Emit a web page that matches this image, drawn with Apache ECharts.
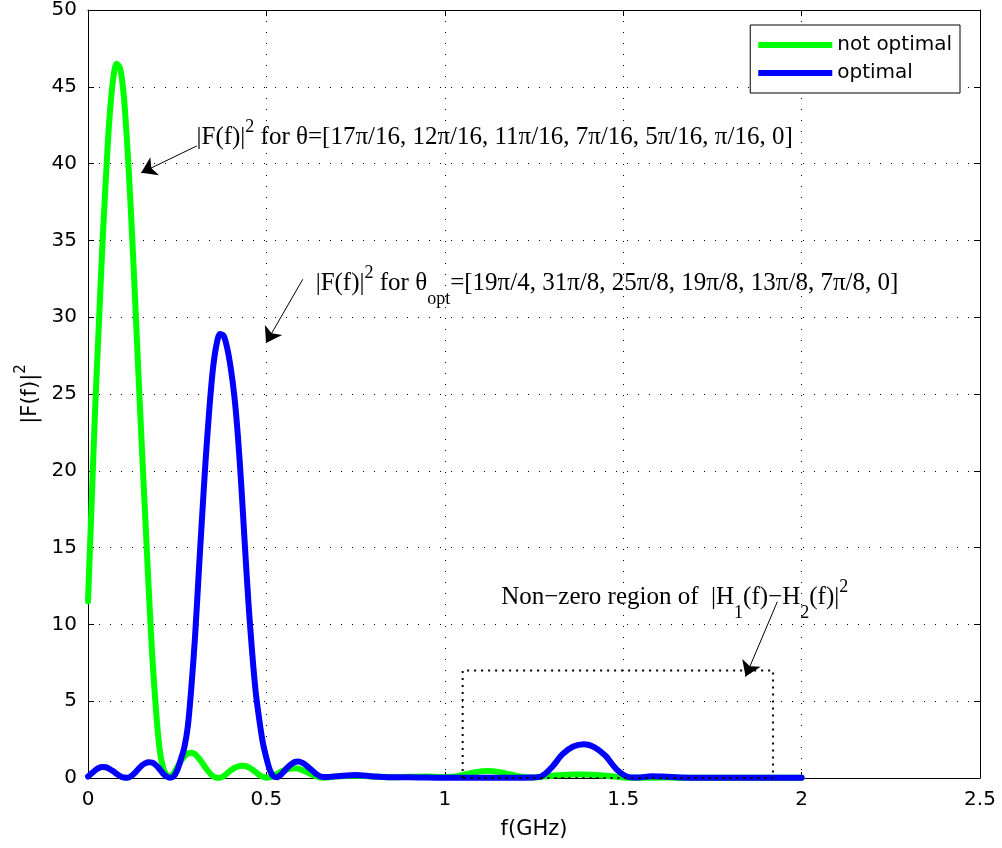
<!DOCTYPE html>
<html><head><meta charset="utf-8">
<script src="https://cdn.jsdelivr.net/npm/echarts@6/dist/echarts.min.js"></script>
<style>html,body{margin:0;padding:0;background:#fff}#c{width:1002px;height:848px}</style>
</head><body><div id="c"></div>
<script>
// ---------- data ----------
const freq = [0.00,0.01,0.02,0.03,0.04,0.05,0.06,0.07,0.08,0.09,
  0.10,0.11,0.12,0.13,0.14,0.15,0.16,0.17,0.18,0.19,
  0.20,0.21,0.22,0.23,0.24,0.25,0.26,0.27,0.28,0.29,
  0.30,0.31,0.32,0.33,0.34,0.35,0.36,0.37,0.38,0.39,
  0.40,0.41,0.42,0.43,0.44,0.45,0.46,0.47,0.48,0.49,
  0.50,0.51,0.52,0.53,0.54,0.55,0.56,0.57,0.58,0.59,
  0.60,0.61,0.62,0.63,0.64,0.65,0.66,0.67,0.68,0.69,0.70,
  0.75,0.80,0.85,0.90,0.95,1.00,
  1.03,1.06,1.09,1.12,1.15,1.18,1.21,1.24,1.27,1.30,1.33,1.36,1.39,1.42,1.45,1.48,1.51,1.54,
  1.58,1.62,1.66,1.70,1.75,1.80,1.85,1.90,1.95,2.00];

const notOptimal = [11.5,17.8,24.0,29.3,34.5,39.0,42.9,45.4,46.5,46.2,
  44.5,41.2,37.0,32.2,27.0,22.0,17.2,12.4,8.0,4.6,
  2.0,0.7,0.2,0.1,0.3,0.7,1.1,1.4,1.6,1.65,
  1.55,1.3,1.0,0.65,0.35,0.12,0.02,0.02,0.12,0.3,
  0.5,0.65,0.75,0.8,0.78,0.7,0.55,0.38,0.2,0.08,
  0.02,0.05,0.15,0.27,0.4,0.5,0.58,0.62,0.63,0.6,
  0.52,0.42,0.3,0.2,0.1,0.04,0.02,0.03,0.06,0.09,0.11,
  0.15,0.1,0.05,0.08,0.1,0.05,
  0.1,0.25,0.4,0.45,0.4,0.25,0.1,0.03,0.08,0.15,0.2,0.22,0.22,0.2,0.15,0.08,0.02,0.01,
  0.02,0.03,0.02,0.01,0.02,0.01,0.01,0.02,0.01,0.01];

const optimal = [0.1,0.3,0.5,0.65,0.72,0.7,0.6,0.45,0.28,0.12,
  0.03,0.02,0.1,0.3,0.55,0.8,0.95,1.02,1.0,0.85,
  0.6,0.3,0.1,0.02,0.1,0.5,1.2,2.0,3.4,6.0,
  9.2,13.2,17.1,20.8,24.0,26.6,28.2,28.9,28.8,28.0,
  26.7,24.9,22.3,18.9,15.0,11.3,8.2,5.6,3.8,2.3,
  1.3,0.5,0.1,0.05,0.2,0.45,0.7,0.9,1.05,1.08,
  1.0,0.85,0.65,0.45,0.25,0.12,0.06,0.06,0.08,0.1,0.12,
  0.2,0.1,0.05,0.05,0.03,0.02,
  0.02,0.02,0.02,0.02,0.02,0.02,0.02,0.03,0.1,0.7,1.55,2.05,2.2,2.0,1.45,0.6,0.1,0.03,
  0.12,0.08,0.03,0.02,0.02,0.02,0.02,0.02,0.02,0.02];

const seriesNames = ['not optimal', 'optimal'];
const xTickLabels = ['0','0.5','1','1.5','2','2.5'];
const yTickLabels = ['0','5','10','15','20','25','30','35','40','45','50'];

// non-zero region box (data space): x range and height
const regionX = [1.05, 1.92];
const regionTop = 7;

// annotation arrows: [start, tip] in data space
const arrows = [
  [[0.305, 41.15], [0.149, 39.4]],
  [[0.602, 32.47], [0.499, 28.32]],
  [[1.932, 11.48], [1.843, 6.6]]
];
// annotation texts anchored (left-middle) in data space
const notes = [
  { x: 0.304, y: 42.19, text: '{nb||F(f)|}{sp|2}{nb| for θ=[17π/16, 12π/16, 11π/16, 7π/16, 5π/16, π/16, 0]}' },
  { x: 0.638, y: 32.68, text: '{nb||F(f)|}{sp|2}{nb| for θ}{sb|opt}{nb|=[19π/4, 31π/8, 25π/8, 19π/8, 13π/8, 7π/8, 0]}' },
  { x: 1.158, y: 12.24, text: '{nb|Non−zero region of  |H}{sb|1}{nb|(f)−H}{sb|2}{nb|(f)|}{sp|2}' }
];

// ---------- chart ----------
const sans = 'DejaVu Sans';
const serif = 'Liberation Serif';
const pts = ys => freq.map((f, i) => [f, ys[i]]);
const regionPts = [[regionX[0], 0], [regionX[0], regionTop], [regionX[1], regionTop], [regionX[1], 0], [regionX[0], 0]];

const richNote = {
  nb: { fontFamily: serif, fontSize: 25, lineHeight: 26, color: '#000', padding: [8, 0, 12, 0], verticalAlign: 'top' },
  sp: { fontFamily: serif, fontSize: 18, lineHeight: 18, color: '#000', padding: [1, 0, 27, 0], verticalAlign: 'top' },
  sb: { fontFamily: serif, fontSize: 18, lineHeight: 18, color: '#000', padding: [27, 0, 1, 0], verticalAlign: 'top' }
};

const axisCommon = {
  type: 'value',
  axisLine: { show: true, onZero: false, lineStyle: { color: '#000', width: 1 } },
  axisTick: { show: true, inside: true, length: 6, lineStyle: { color: '#000', width: 1 } }
};

const chart = echarts.init(document.getElementById('c'), null, { renderer: 'canvas' });
chart.setOption({
  animation: false,
  backgroundColor: '#fff',
  grid: { left: 88, right: 22, top: 10, bottom: 70, containLabel: false },
  legend: {
    data: seriesNames,
    orient: 'vertical',
    right: 42, top: 25,
    icon: 'rect',
    itemWidth: 74, itemHeight: 6, itemGap: 8,
    padding: [10, 8, 10, 8],
    backgroundColor: '#fff',
    borderColor: '#000', borderWidth: 1,
    textStyle: { fontFamily: sans, fontSize: 20, lineHeight: 20, color: '#000' },
    selectedMode: false
  },
  xAxis: [
    Object.assign({}, axisCommon, {
      min: 0, max: 2.5, interval: 0.5, position: 'bottom',
      axisLabel: { fontFamily: sans, fontSize: 20, color: '#000', margin: 12,
        formatter: v => xTickLabels[Math.round(v / 0.5)] },
      splitLine: { show: true, lineStyle: { color: '#000', type: [1, 10], width: 1 } },
      name: 'f(GHz)', nameLocation: 'middle', nameGap: 41,
      nameTextStyle: { fontFamily: sans, fontSize: 21, color: '#000' }
    }),
    Object.assign({}, axisCommon, {
      min: 0, max: 2.5, interval: 0.5, position: 'top',
      axisLabel: { show: false }, splitLine: { show: false }
    })
  ],
  yAxis: [
    Object.assign({}, axisCommon, {
      min: 0, max: 50, interval: 5, position: 'left',
      axisLabel: { fontFamily: sans, fontSize: 20, color: '#000', margin: 11,
        formatter: v => yTickLabels[Math.round(v / 5)] },
      splitLine: { show: true, lineStyle: { color: '#000', type: [1, 10], width: 1 } },
      name: '{ya||F(f)|}{ys|2}', nameLocation: 'middle', nameGap: 54, nameRotate: 90,
      nameTextStyle: {
        rich: {
          ya: { fontFamily: sans, fontSize: 21, lineHeight: 22, color: '#000', padding: [8, 0, 0, 0], verticalAlign: 'top' },
          ys: { fontFamily: sans, fontSize: 15, lineHeight: 15, color: '#000', padding: [2, 0, 0, 0], verticalAlign: 'top' }
        }
      }
    }),
    Object.assign({}, axisCommon, {
      min: 0, max: 50, interval: 5, position: 'right',
      axisLabel: { show: false }, splitLine: { show: false }
    })
  ],
  series: [
    {
      name: seriesNames[0], type: 'line', data: pts(notOptimal),
      showSymbol: false, smooth: 0.3, color: '#00ff00',
      lineStyle: { color: '#00ff00', width: 6, cap: 'round', join: 'round' },
      emphasis: { disabled: true }, z: 2
    },
    {
      name: seriesNames[1], type: 'line', data: pts(optimal),
      showSymbol: false, smooth: 0.3, color: '#0000ff',
      lineStyle: { color: '#0000ff', width: 6, cap: 'round', join: 'round' },
      emphasis: { disabled: true }, z: 3
    },
    {
      name: 'region', type: 'line', data: regionPts,
      showSymbol: false, silent: true, color: '#000',
      lineStyle: { color: '#000', width: 2, type: [2, 5] },
      emphasis: { disabled: true }, z: 4,
      markLine: {
        silent: true, animation: false,
        symbol: ['none', 'arrow'], symbolSize: 15,
        label: { show: false },
        lineStyle: { color: '#000', width: 1, type: 'solid' },
        emphasis: { disabled: true },
        data: arrows.map(a => [{ coord: a[0] }, { coord: a[1] }])
      },
      markPoint: {
        silent: true, animation: false,
        symbol: 'circle', symbolSize: 0,
        data: notes.map(n => ({
          coord: [n.x, n.y],
          label: { show: true, position: 'right', distance: 0, formatter: () => n.text, rich: richNote }
        }))
      }
    }
  ]
});
</script></body></html>
